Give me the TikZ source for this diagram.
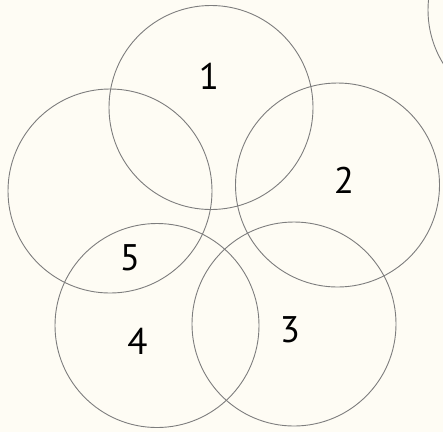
\documentclass[tikz,border=0pt]{standalone}
\usepackage{fontspec}
\setmainfont{PT Sans}
\definecolor{bgc}{RGB}{254,252,244}
\definecolor{ring}{RGB}{125,125,125}
\begin{document}
\begin{tikzpicture}[x=1pt,y=-1pt,
  ringc/.style={circle,draw=ring,line width=0.9pt,minimum size=204pt,inner sep=0pt},
  lab/.style={font=\fontsize{37}{37}\selectfont,inner sep=0pt}]
\useasboundingbox (0,0) rectangle (443,432);
\fill[bgc] (0,0) rectangle (443,432);
\clip (0,0) rectangle (443,432);
\node[ringc] (c1) at (211,107.5) {};
\node[ringc] (c2) at (337.5,185) {};
\node[ringc] (c3) at (294,324) {};
\node[ringc] (c4) at (157,325.5) {};
\node[ringc] (c5) at (110,191) {};
\node[ringc] (c6) at (530,10) {};
\node[lab] (l1) at (209,76) {1};
\node[lab] (l2) at (344,180) {2};
\node[lab] (l3) at (290,330) {3};
\node[lab] (l4) at (137.5,341) {4};
\node[lab] (l5) at (130,258) {5};
\end{tikzpicture}
\end{document}
